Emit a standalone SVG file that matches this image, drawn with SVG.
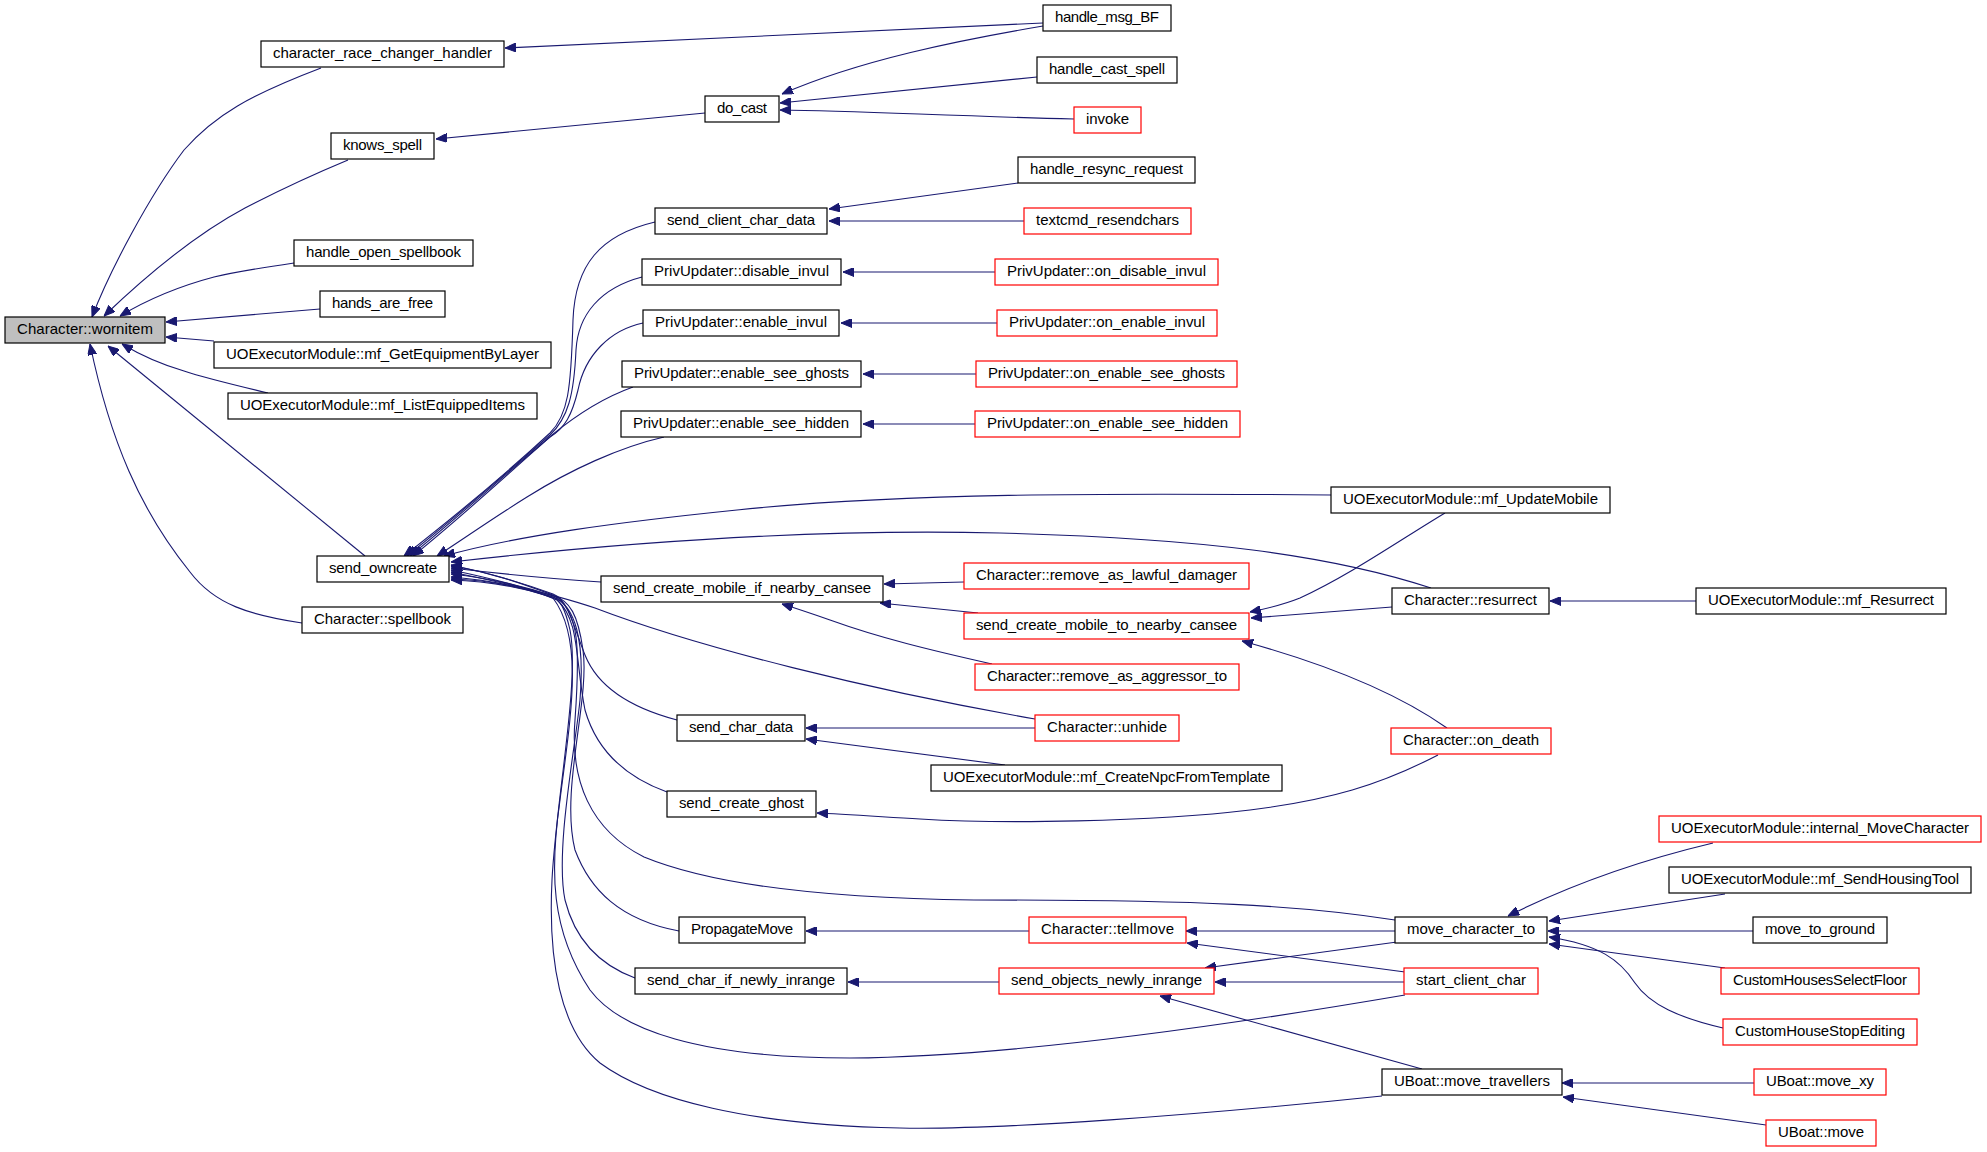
<svg xmlns="http://www.w3.org/2000/svg" width="1987" height="1152" viewBox="0 0 1987 1152">
<defs>
<marker id="ah" viewBox="0 0 11 9" markerWidth="11" markerHeight="9" refX="11" refY="4.5" orient="auto" markerUnits="userSpaceOnUse">
<path d="M0,0 L11,4.5 L0,9 z" fill="#191970" stroke="#191970" stroke-width="1"/>
</marker>
<style>
.b{fill:#ffffff;stroke:#000000;stroke-width:1.2}
.r{fill:#ffffff;stroke:#ff0000;stroke-width:1.2}
.g{fill:#bfbfbf;stroke:#000000;stroke-width:1.2}
text{font-family:"Liberation Sans",Arial,sans-serif;font-size:15px;fill:#000000;text-anchor:middle}
#edges path{fill:none;stroke:#191970;stroke-width:1.1;marker-end:url(#ah)}
</style>
</defs>
<rect width="1987" height="1152" fill="#ffffff"/>
<g id="edges">
<path d="M321,68 C250,95 215,115 184,150 C150,195 110,270 92,317"/>
<path d="M348,160 C300,180 270,195 245,208 C200,232 150,272 104,316"/>
<path d="M294,263 C260,268 235,272 214,277 C180,286 150,298 120,316"/>
<path d="M320,309 L166,322"/>
<path d="M214,341 L166,337"/>
<path d="M268,393 C230,384 205,378 184,371 C160,364 142,356 122,344"/>
<path d="M365,556 L108,346"/>
<path d="M302,623 C250,615 215,605 190,572 C140,510 110,440 90,344"/>
<path d="M1043,23 L505,48"/>
<path d="M705,113 L436,139"/>
<path d="M1043,26 C960,40 860,60 782,94"/>
<path d="M1037,77 L780,103"/>
<path d="M1074,119 C950,116 860,111 780,110"/>
<path d="M1018,183 L829,209"/>
<path d="M1024,221 L829,221"/>
<path d="M995,272 L843,272"/>
<path d="M997,323 L841,323"/>
<path d="M976,374 L863,374"/>
<path d="M975,424 L863,424"/>
<path d="M655,222 C600,235 575,265 573,320 C571,390 568,415 550,433 C510,470 450,520 404,556"/>
<path d="M642,277 C600,288 578,315 576,350 C574,395 568,418 550,435 C510,470 452,520 407,556"/>
<path d="M643,323 C610,330 585,355 578,390 C572,415 565,428 550,437 C510,470 455,520 410,556"/>
<path d="M633,387 C605,397 580,412 552,435 C515,468 458,520 413,556"/>
<path d="M664,437 C620,447 570,470 527,497 C490,520 462,540 437,556"/>
<path d="M1331,495 C1100,493 900,493 737,510 C620,522 520,535 444,556"/>
<path d="M1431,588 C1330,555 1200,538 1000,533 C800,528 600,545 451,562"/>
<path d="M601,582 C570,580 520,576 451,568"/>
<path d="M1035,719 C870,690 700,648 595,608 C560,596 500,582 451,572"/>
<path d="M677,720 C620,705 595,680 585,655 C572,622 568,600 553,594 C520,582 490,573 451,565"/>
<path d="M667,792 C620,775 595,745 585,710 C575,660 580,620 557,600 C530,588 490,578 451,570"/>
<path d="M679,931 C620,920 590,890 575,850 C560,790 590,700 583,650 C578,615 570,600 553,596 C520,585 490,578 451,574"/>
<path d="M635,978 C600,965 575,940 565,900 C555,850 575,750 580,700 C585,640 575,605 553,597 C520,586 490,580 451,577"/>
<path d="M1395,920 C1300,905 1200,900 974,900 C800,898 700,880 644,857 C590,830 570,780 575,720 C580,650 580,610 553,595 C520,583 490,572 451,566"/>
<path d="M1405,995 C1200,1030 1000,1057 850,1058 C700,1058 620,1030 590,990 C550,930 550,870 560,800 C570,720 585,640 553,598 C520,586 490,580 451,579"/>
<path d="M1382,1096 C1200,1115 1000,1130 900,1128 C750,1125 650,1100 600,1063 C560,1030 548,960 552,880 C556,800 580,680 570,630 C565,608 560,600 553,597 C520,587 490,581 451,580"/>
<path d="M964,582 L884,584"/>
<path d="M978,613 L880,603"/>
<path d="M992,664 C930,650 880,638 830,620 C810,613 795,608 782,604"/>
<path d="M1445,513 C1400,540 1350,575 1300,598 C1280,606 1265,609 1250,612"/>
<path d="M1392,607 L1251,618"/>
<path d="M1447,728 C1400,695 1330,665 1242,641"/>
<path d="M1696,601 L1550,601"/>
<path d="M1035,728 L806,728"/>
<path d="M1005,765 L806,739"/>
<path d="M1438,755 C1380,785 1330,800 1250,810 C1150,822 1000,824 920,819 C870,816 840,814 817,813"/>
<path d="M1029,931 L806,931"/>
<path d="M1395,931 L1186,931"/>
<path d="M1405,972 L1187,943"/>
<path d="M999,982 L848,982"/>
<path d="M1397,942 L1205,968"/>
<path d="M1404,982 L1215,982"/>
<path d="M1422,1069 L1160,996"/>
<path d="M1713,843 C1650,858 1580,880 1508,916"/>
<path d="M1725,894 L1549,921"/>
<path d="M1753,931 L1548,931"/>
<path d="M1725,968 L1549,944"/>
<path d="M1723,1028 C1680,1018 1650,1005 1635,983 C1620,960 1600,945 1549,937"/>
<path d="M1754,1083 L1562,1083"/>
<path d="M1766,1125 L1563,1097"/>
</g>
<g id="n_wornitem"><rect class="g" x="5" y="317" width="160" height="26"/><text x="85" y="334" textLength="136">Character::wornitem</text></g>
<g id="n_crch"><rect class="b" x="261" y="41" width="243" height="26"/><text x="382.5" y="58" textLength="219">character_race_changer_handler</text></g>
<g id="n_knows_spell"><rect class="b" x="331" y="133" width="103" height="26"/><text x="382.5" y="150" textLength="79">knows_spell</text></g>
<g id="n_handle_open_spellbook"><rect class="b" x="294" y="240" width="179" height="26"/><text x="383.5" y="257" textLength="155">handle_open_spellbook</text></g>
<g id="n_hands_are_free"><rect class="b" x="320" y="291" width="125" height="26"/><text x="382.5" y="308" textLength="101">hands_are_free</text></g>
<g id="n_mf_GetEquipmentByLayer"><rect class="b" x="214" y="342" width="337" height="26"/><text x="382.5" y="359" textLength="313">UOExecutorModule::mf_GetEquipmentByLayer</text></g>
<g id="n_mf_ListEquippedItems"><rect class="b" x="228" y="393" width="309" height="26"/><text x="382.5" y="410" textLength="285">UOExecutorModule::mf_ListEquippedItems</text></g>
<g id="n_send_owncreate"><rect class="b" x="317" y="556" width="132" height="26"/><text x="383" y="573" textLength="108">send_owncreate</text></g>
<g id="n_spellbook"><rect class="b" x="302" y="607" width="161" height="26"/><text x="382.5" y="624" textLength="137">Character::spellbook</text></g>
<g id="n_handle_msg_BF"><rect class="b" x="1043" y="5" width="128" height="26"/><text x="1107" y="22" textLength="104">handle_msg_BF</text></g>
<g id="n_handle_cast_spell"><rect class="b" x="1037" y="57" width="140" height="26"/><text x="1107" y="74" textLength="116">handle_cast_spell</text></g>
<g id="n_invoke"><rect class="r" x="1074" y="107" width="67" height="26"/><text x="1107.5" y="124" textLength="43">invoke</text></g>
<g id="n_do_cast"><rect class="b" x="705" y="96" width="74" height="26"/><text x="742" y="113" textLength="50">do_cast</text></g>
<g id="n_handle_resync_request"><rect class="b" x="1018" y="157" width="177" height="26"/><text x="1106.5" y="174" textLength="153">handle_resync_request</text></g>
<g id="n_send_client_char_data"><rect class="b" x="655" y="208" width="172" height="26"/><text x="741" y="225" textLength="148">send_client_char_data</text></g>
<g id="n_textcmd_resendchars"><rect class="r" x="1024" y="208" width="167" height="26"/><text x="1107.5" y="225" textLength="143">textcmd_resendchars</text></g>
<g id="n_disable_invul"><rect class="b" x="642" y="259" width="199" height="26"/><text x="741.5" y="276" textLength="175">PrivUpdater::disable_invul</text></g>
<g id="n_on_disable_invul"><rect class="r" x="995" y="259" width="223" height="26"/><text x="1106.5" y="276" textLength="199">PrivUpdater::on_disable_invul</text></g>
<g id="n_enable_invul"><rect class="b" x="643" y="310" width="196" height="26"/><text x="741" y="327" textLength="172">PrivUpdater::enable_invul</text></g>
<g id="n_on_enable_invul"><rect class="r" x="997" y="310" width="220" height="26"/><text x="1107" y="327" textLength="196">PrivUpdater::on_enable_invul</text></g>
<g id="n_enable_see_ghosts"><rect class="b" x="622" y="361" width="239" height="26"/><text x="741.5" y="378" textLength="215">PrivUpdater::enable_see_ghosts</text></g>
<g id="n_on_enable_see_ghosts"><rect class="r" x="976" y="361" width="261" height="26"/><text x="1106.5" y="378" textLength="237">PrivUpdater::on_enable_see_ghosts</text></g>
<g id="n_enable_see_hidden"><rect class="b" x="621" y="411" width="240" height="26"/><text x="741" y="428" textLength="216">PrivUpdater::enable_see_hidden</text></g>
<g id="n_on_enable_see_hidden"><rect class="r" x="975" y="411" width="265" height="26"/><text x="1107.5" y="428" textLength="241">PrivUpdater::on_enable_see_hidden</text></g>
<g id="n_mf_UpdateMobile"><rect class="b" x="1331" y="487" width="279" height="26"/><text x="1470.5" y="504" textLength="255">UOExecutorModule::mf_UpdateMobile</text></g>
<g id="n_scmifnc"><rect class="b" x="601" y="576" width="282" height="26"/><text x="742" y="593" textLength="258">send_create_mobile_if_nearby_cansee</text></g>
<g id="n_remove_as_lawful_damager"><rect class="r" x="964" y="563" width="285" height="26"/><text x="1106.5" y="580" textLength="261">Character::remove_as_lawful_damager</text></g>
<g id="n_scmtnc"><rect class="r" x="964" y="613" width="285" height="26"/><text x="1106.5" y="630" textLength="261">send_create_mobile_to_nearby_cansee</text></g>
<g id="n_remove_as_aggressor_to"><rect class="r" x="975" y="664" width="264" height="26"/><text x="1107" y="681" textLength="240">Character::remove_as_aggressor_to</text></g>
<g id="n_send_char_data"><rect class="b" x="677" y="715" width="128" height="26"/><text x="741" y="732" textLength="104">send_char_data</text></g>
<g id="n_unhide"><rect class="r" x="1035" y="715" width="144" height="26"/><text x="1107" y="732" textLength="120">Character::unhide</text></g>
<g id="n_mf_CreateNpcFromTemplate"><rect class="b" x="931" y="765" width="351" height="26"/><text x="1106.5" y="782" textLength="327">UOExecutorModule::mf_CreateNpcFromTemplate</text></g>
<g id="n_send_create_ghost"><rect class="b" x="667" y="791" width="149" height="26"/><text x="741.5" y="808" textLength="125">send_create_ghost</text></g>
<g id="n_resurrect"><rect class="b" x="1392" y="588" width="157" height="26"/><text x="1470.5" y="605" textLength="133">Character::resurrect</text></g>
<g id="n_mf_Resurrect"><rect class="b" x="1696" y="588" width="250" height="26"/><text x="1821" y="605" textLength="226">UOExecutorModule::mf_Resurrect</text></g>
<g id="n_on_death"><rect class="r" x="1391" y="728" width="160" height="26"/><text x="1471" y="745" textLength="136">Character::on_death</text></g>
<g id="n_internal_MoveCharacter"><rect class="r" x="1659" y="816" width="322" height="26"/><text x="1820" y="833" textLength="298">UOExecutorModule::internal_MoveCharacter</text></g>
<g id="n_mf_SendHousingTool"><rect class="b" x="1669" y="867" width="302" height="26"/><text x="1820" y="884" textLength="278">UOExecutorModule::mf_SendHousingTool</text></g>
<g id="n_move_character_to"><rect class="b" x="1395" y="917" width="152" height="26"/><text x="1471" y="934" textLength="128">move_character_to</text></g>
<g id="n_move_to_ground"><rect class="b" x="1753" y="917" width="134" height="26"/><text x="1820" y="934" textLength="110">move_to_ground</text></g>
<g id="n_start_client_char"><rect class="r" x="1404" y="968" width="134" height="26"/><text x="1471" y="985" textLength="110">start_client_char</text></g>
<g id="n_CustomHousesSelectFloor"><rect class="r" x="1721" y="968" width="198" height="26"/><text x="1820" y="985" textLength="174">CustomHousesSelectFloor</text></g>
<g id="n_CustomHouseStopEditing"><rect class="r" x="1723" y="1019" width="194" height="26"/><text x="1820" y="1036" textLength="170">CustomHouseStopEditing</text></g>
<g id="n_PropagateMove"><rect class="b" x="679" y="917" width="126" height="26"/><text x="742" y="934" textLength="102">PropagateMove</text></g>
<g id="n_tellmove"><rect class="r" x="1029" y="917" width="157" height="26"/><text x="1107.5" y="934" textLength="133">Character::tellmove</text></g>
<g id="n_send_char_if_newly_inrange"><rect class="b" x="635" y="968" width="212" height="26"/><text x="741" y="985" textLength="188">send_char_if_newly_inrange</text></g>
<g id="n_send_objects_newly_inrange"><rect class="r" x="999" y="968" width="215" height="26"/><text x="1106.5" y="985" textLength="191">send_objects_newly_inrange</text></g>
<g id="n_move_travellers"><rect class="b" x="1382" y="1069" width="180" height="26"/><text x="1472" y="1086" textLength="156">UBoat::move_travellers</text></g>
<g id="n_move_xy"><rect class="r" x="1754" y="1069" width="132" height="26"/><text x="1820" y="1086" textLength="108">UBoat::move_xy</text></g>
<g id="n_move"><rect class="r" x="1766" y="1120" width="110" height="26"/><text x="1821" y="1137" textLength="86">UBoat::move</text></g>
</svg>
